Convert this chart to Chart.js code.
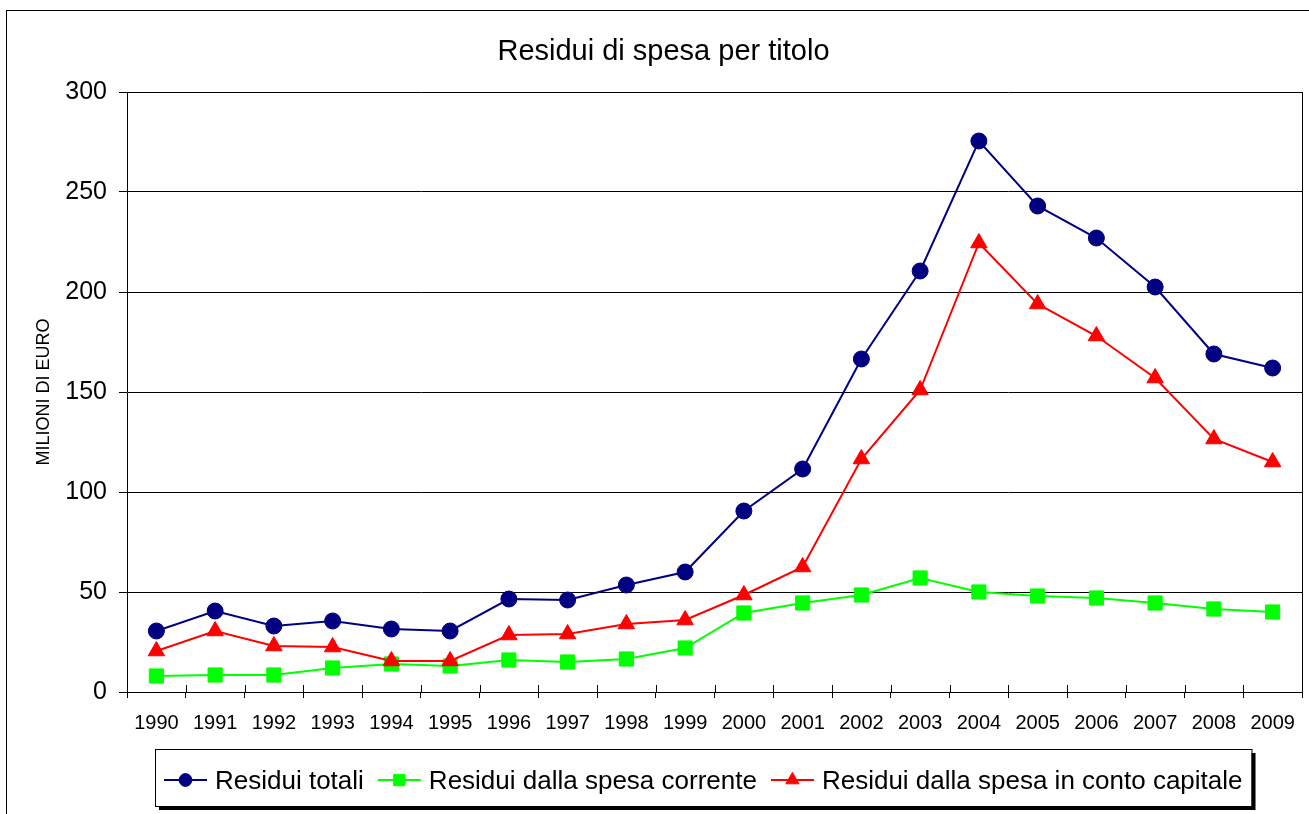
<!DOCTYPE html>
<html>
<head>
<meta charset="utf-8">
<title>Residui di spesa per titolo</title>
<script src="https://cdn.jsdelivr.net/npm/chart.js@4.4.1/dist/chart.umd.min.js"></script>
<style>
  html, body { margin: 0; padding: 0; background: #fff; }
  #wrap { width: 1309px; height: 814px; position: relative; }
</style>
</head>
<body>
<div id="wrap"><canvas id="chart" width="1309" height="814"></canvas></div>
<script>
// DATI (milioni di euro)
const anni = ['1990','1991','1992','1993','1994','1995','1996','1997','1998','1999',
              '2000','2001','2002','2003','2004','2005','2006','2007','2008','2009'];
const residuiTotali   = [30.5, 40.5, 33, 35.5, 31.5, 30.5, 46.5, 46, 53.5, 60,
                         90.5, 111.5, 166.5, 210.5, 275.5, 243, 227, 202.5, 169, 162];
const residuiCorrente = [8, 8.5, 8.5, 12, 14, 13, 16, 15, 16.5, 22,
                         39.5, 44.5, 48.5, 57, 50, 48, 47, 44.5, 41.5, 40];
const residuiCapitale = [20.5, 30.5, 23, 22.5, 15.5, 15.5, 28.5, 29, 34, 36,
                         48.5, 62.5, 116.5, 151, 224.5, 194, 178, 157, 126.5, 115];
const tickY = [0, 50, 100, 150, 200, 250, 300];

const FONT = '"Liberation Sans", Arial, sans-serif';

// CORNICE, TACCHE E LEGENDA
const cornice = {
  id: 'cornice',
  afterDraw(chart) {
    const ctx = chart.ctx;
    const a = chart.chartArea;
    ctx.save();
    ctx.strokeStyle = '#000';
    ctx.lineWidth = 1;

    // bordo esterno
    ctx.strokeRect(6.5, 10.5, chart.width + 20, chart.height + 20);

    // bordo destro dell'area del grafico
    ctx.beginPath();
    ctx.moveTo(Math.round(a.right) + 0.5, a.top);
    ctx.lineTo(Math.round(a.right) + 0.5, a.bottom);
    ctx.stroke();

    // tacche interne sull'asse x (tipo "incrocia")
    const n = anni.length;
    const step = (a.right - a.left) / n;
    ctx.beginPath();
    for (let i = 0; i <= n; i++) {
      const x = Math.round(a.left + i * step) + 0.5;
      ctx.moveTo(x, a.bottom - 7);
      ctx.lineTo(x, a.bottom);
    }
    ctx.stroke();

    // legenda
    ctx.font = '26px ' + FONT;
    const sets = chart.data.datasets;
    const baseY = 789, midY = 780;
    let x = 164;
    const items = sets.map(ds => {
      const w = ctx.measureText(ds.label).width;
      const it = { ds, x, w };
      x += 51 + w + 14;
      return it;
    });
    const boxL = 155, boxT = 749, boxR = x - 14 + 9, boxB = 806;
    ctx.fillStyle = '#000';
    ctx.fillRect(boxL + 4, boxT + 4, boxR - boxL, boxB - boxT);
    ctx.fillStyle = '#fff';
    ctx.fillRect(boxL, boxT, boxR - boxL, boxB - boxT);
    ctx.strokeRect(boxL + 0.5, boxT + 0.5, boxR - boxL, boxB - boxT);

    items.forEach(it => {
      const ds = it.ds;
      ctx.strokeStyle = ds.borderColor;
      ctx.lineWidth = 2;
      ctx.beginPath();
      ctx.moveTo(it.x, midY);
      ctx.lineTo(it.x + 43, midY);
      ctx.stroke();
      ctx.fillStyle = ds.backgroundColor;
      ctx.lineWidth = 1;
      Chart.helpers.drawPoint(ctx, {
        pointStyle: ds.pointStyle, rotation: 0,
        radius: ds.pointRadius * 0.8, borderWidth: 1
      }, it.x + 21.5, midY);
      ctx.fillStyle = '#000';
      ctx.textBaseline = 'alphabetic';
      ctx.textAlign = 'left';
      ctx.fillText(ds.label, it.x + 51, baseY);
    });
    ctx.restore();
  }
};

const ctx = document.getElementById('chart').getContext('2d');
const myChart = new Chart(ctx, {
  type: 'line',
  data: {
    labels: anni,
    datasets: [
      {
        label: 'Residui totali',
        data: residuiTotali,
        borderColor: '#000080',
        backgroundColor: '#000080',
        pointStyle: 'circle',
        pointRadius: 8,
        borderWidth: 2,
        order: 0
      },
      {
        label: 'Residui dalla spesa corrente',
        data: residuiCorrente,
        borderColor: '#00FF00',
        backgroundColor: '#00FF00',
        pointStyle: 'rect',
        pointRadius: 10,
        borderWidth: 2,
        order: 2
      },
      {
        label: 'Residui dalla spesa in conto capitale',
        data: residuiCapitale,
        borderColor: '#FF0000',
        backgroundColor: '#FF0000',
        pointStyle: 'triangle',
        pointRadius: 9.5,
        borderWidth: 2,
        order: 1
      }
    ]
  },
  options: {
    responsive: false,
    animation: false,
    devicePixelRatio: 1,
    layout: { autoPadding: false, padding: { left: 25, right: 7, top: 0, bottom: 78 } },
    elements: {
      line: { tension: 0 },
      point: { pointBorderWidth: 1 }
    },
    plugins: {
      legend: { display: false },
      tooltip: { enabled: false },
      title: {
        display: true,
        text: 'Residui di spesa per titolo',
        color: '#000',
        font: { family: FONT, size: 29, weight: 'normal' },
        padding: { top: 35, bottom: 22.2 }
      }
    },
    scales: {
      x: {
        offset: true,
        grid: {
          offset: true,
          drawOnChartArea: false,
          drawTicks: true,
          tickLength: 6,
          color: '#000'
        },
        border: { display: true, color: '#000', width: 1 },
        ticks: {
          color: '#000',
          font: { family: FONT, size: 20, lineHeight: 2.35 },
          padding: 2,
          maxRotation: 0,
          autoSkip: false
        },
        afterFit(scale) { scale.height = 44; }
      },
      y: {
        min: 0,
        max: 300,
        afterBuildTicks(scale) { scale.ticks = tickY.map(v => ({ value: v })); },
        grid: { color: '#000', lineWidth: 1, tickLength: 8, drawTicks: true },
        border: { display: true, color: '#000', width: 1 },
        ticks: {
          color: '#000',
          font: { family: FONT, size: 25 },
          padding: 12
        },
        title: {
          display: true,
          text: 'MILIONI DI EURO',
          color: '#000',
          font: { family: FONT, size: 18 },
          padding: { top: 8.2, bottom: 0 }
        },
        afterFit(scale) { scale.width = 102; }
      }
    }
  },
  plugins: [cornice]
});
</script>
</body>
</html>
